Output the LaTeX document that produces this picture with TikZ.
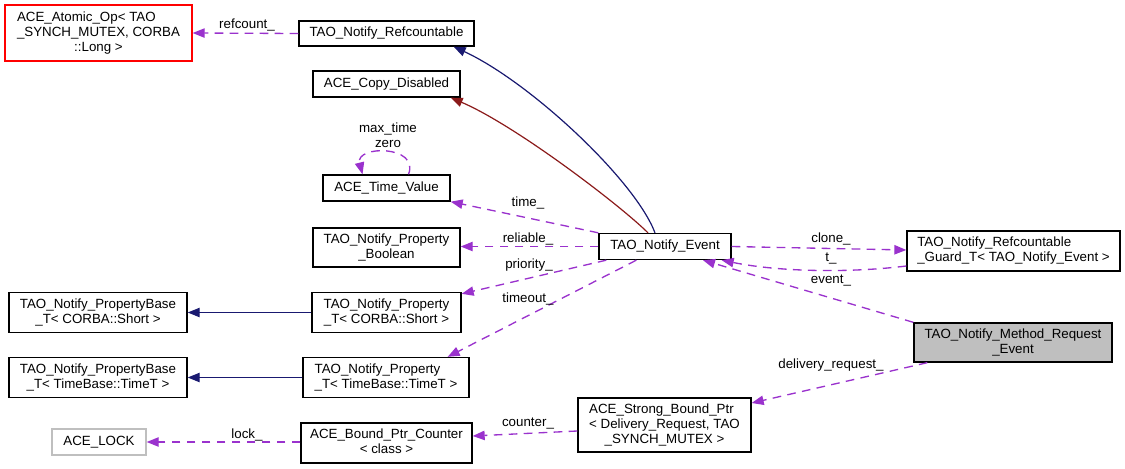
\documentclass[tikz,border=0pt]{standalone}
\usepackage{fontspec}
\setmainfont{Liberation Sans}
\usetikzlibrary{arrows.meta,calc}
\definecolor{usagepurple}{HTML}{9A32CD}
\definecolor{inheritblue}{HTML}{191970}
\definecolor{inheritred}{HTML}{8B1A1A}
\definecolor{grey75}{HTML}{BFBFBF}
\newcommand{\boxlines}[1]{\begin{tabular}{@{}l@{}}#1\end{tabular}}
\newcommand{\lastrow}[1]{\multicolumn{1}{@{}c@{}}{#1}}
\tikzset{klass/.style={draw=black,line width=1pt,inner sep=0pt,align=center,font=\fontsize{10}{11.25}\selectfont}}
\tikzset{boxsize/.style 2 args={minimum width=#1*0.75pt,minimum height=#2*0.75pt}}
\tikzset{lbl/.style={inner sep=0pt,font=\fontsize{10}{11.25}\selectfont}}
\tikzset{usage/.style={draw=usagepurple,line width=1pt,dash pattern=on 6.5pt off 4.75pt,-{Triangle[length=9pt,width=7pt]}}}
\tikzset{inherit/.style={line width=0.9pt,-{Triangle[length=9pt,width=7pt]}}}

\begin{document}
\begin{tikzpicture}[x=0.75pt,y=-0.75pt]
            \useasboundingbox (0,0) rectangle (1125,468);
            \node[klass,draw=red,boxsize={187}{56}] (atomic) at (98.5,33) {\boxlines{ACE\_Atomic\_Op< TAO\\ \_SYNCH\_MUTEX, CORBA\\ \lastrow{::Long >}}};
            \node[klass,boxsize={175}{25}] (refc) at (386.5,33.5) {TAO\_Notify\_Refcountable};
            \node[klass,boxsize={147}{26}] (copy) at (386.5,84) {ACE\_Copy\_Disabled};
            \node[klass,boxsize={127}{26}] (timeval) at (386.5,188) {ACE\_Time\_Value};
            \node[klass,boxsize={147}{39}] (boolean) at (386.5,247.5) {\boxlines{TAO\_Notify\_Property\\ \lastrow{\_Boolean}}};
            \node[klass,boxsize={132}{26}] (event) at (665,246.5) {TAO\_Notify\_Event};
            \node[klass,boxsize={213}{40}] (guard) at (1013.5,251) {\boxlines{TAO\_Notify\_Refcountable\\ \lastrow{\_Guard\_T< TAO\_Notify\_Event >}}};
            \node[klass,boxsize={178}{40}] (base-short) at (98,312.5) {\boxlines{TAO\_Notify\_PropertyBase\\ \lastrow{\_T< CORBA::Short >}}};
            \node[klass,boxsize={149}{40}] (prop-short) at (386.5,312.5) {\boxlines{TAO\_Notify\_Property\\ \lastrow{\_T< CORBA::Short >}}};
            \node[klass,boxsize={178}{40}] (base-time) at (98,377.5) {\boxlines{TAO\_Notify\_PropertyBase\\ \lastrow{\_T< TimeBase::TimeT >}}};
            \node[klass,boxsize={166}{40}] (prop-time) at (386,377.5) {\boxlines{TAO\_Notify\_Property\\ \lastrow{\_T< TimeBase::TimeT >}}};
            \node[klass,fill=grey75,boxsize={198}{39}] (method) at (1013,342.5) {\boxlines{TAO\_Notify\_Method\_Request\\ \lastrow{\_Event}}};
            \node[klass,boxsize={173}{54}] (strong) at (664.5,425) {\boxlines{ACE\_Strong\_Bound\_Ptr\\ < Delivery\_Request, TAO\\ \lastrow{\_SYNCH\_MUTEX >}}};
            \node[klass,boxsize={171}{40}] (counter) at (386.5,443) {\boxlines{ACE\_Bound\_Ptr\_Counter\\ \lastrow{< class >}}};
            \node[klass,draw=grey75,boxsize={94}{26}] (lock) at (99,442) {ACE\_LOCK};

            \draw[usage] (refc.west) -- (atomic.east);
            \draw[inherit,inheritblue] ($(event.north)+(-10,0)$) .. controls (635,180) and (530,82) .. ($(refc.south east)+(-21,0)$);
            \draw[inherit,inheritred] ($(event.north)+(-17,0)$) .. controls (620,205) and (515,125) .. ($(copy.south east)+(-10,0)$);
            \draw[usage] ($(timeval.north)+(22,0)$) .. controls (420,145) and (355,145) .. ($(timeval.north)+(-24,0)$);
            \draw[usage] (event.north west) -- (timeval.south east);
            \draw[usage] (event.west) -- (event.west -| boolean.east);
            \draw[usage] ($(event.south west)+(8,0)$) -- ($(prop-short.north east)+(0,2)$);
            \draw[usage] ($(event.south west)+(38,0)$) -- ($(prop-time.north east)+(-22,0)$);
            \draw[usage] (event.east) -- ($(guard.west)+(0,-1)$);
            \draw[usage] ($(guard.west)+(0,15)$) .. controls (850,273) and (780,272) .. ($(event.south east)+(-10,0)$);
            \draw[usage] (method.north west) -- ($(event.south)+(38,0)$);
            \draw[usage] ($(method.south west)+(14,0)$) -- ($(strong.east)+(0,-22)$);
            \draw[usage] ($(strong.west)+(0,6)$) -- ($(counter.east)+(0,-7)$);
            \draw[usage] ($(counter.west)+(0,-1)$) -- (lock.east);
            \draw[inherit,inheritblue] (prop-short.west) -- (base-short.east);
            \draw[inherit,inheritblue] (prop-time.west) -- (base-time.east);

            \node[lbl] (lbl-refcount) at (247,25) {refcount\_};
            \node[lbl,align=center] (lbl-self) at (388,135.5) {max\_time\\zero};
            \node[lbl] (lbl-time) at (528,203) {time\_};
            \node[lbl] (lbl-reliable) at (528,239) {reliable\_};
            \node[lbl] (lbl-priority) at (529,265) {priority\_};
            \node[lbl] (lbl-timeout) at (528,299) {timeout\_};
            \node[lbl] (lbl-clone) at (831,239) {clone\_};
            \node[lbl] (lbl-t) at (831,259) {t\_};
            \node[lbl] (lbl-event) at (831,281) {event\_};
            \node[lbl] (lbl-delivery) at (831,365) {delivery\_request\_};
            \node[lbl] (lbl-counter) at (528,424) {counter\_};
            \node[lbl] (lbl-lock) at (247,435) {lock\_};
\end{tikzpicture}
\end{document}
